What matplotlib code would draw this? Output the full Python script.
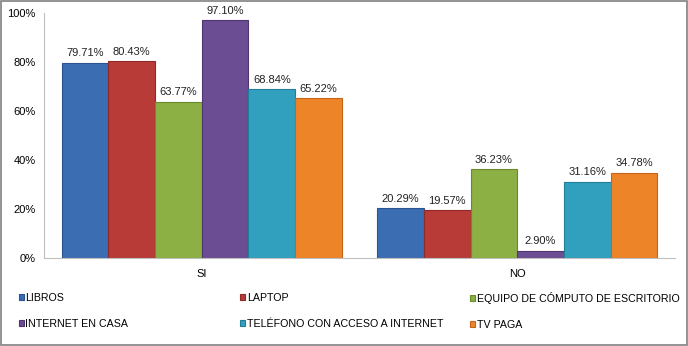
import matplotlib
matplotlib.use("Agg")
import matplotlib.pyplot as plt
import numpy as np
from matplotlib.patches import Rectangle

categories = ["SI", "NO"]
series = ["LIBROS", "LAPTOP", "EQUIPO DE CÓMPUTO DE ESCRITORIO",
          "INTERNET EN CASA", "TELÉFONO CON ACCESO A INTERNET", "TV PAGA"]
values = [
    [79.71, 20.29],
    [80.43, 19.57],
    [63.77, 36.23],
    [97.10, 2.90],
    [68.84, 31.16],
    [65.22, 34.78],
]
colors = ["#3B6DB3", "#B83B38", "#8CB043", "#6B4D93", "#31A0BF", "#EE8428"]
edges = ["#2A5390", "#8E2A27", "#6B8A2E", "#4F3670", "#227E98", "#C4661A"]
yticks = [0, 20, 40, 60, 80, 100]

plt.rcParams['font.family'] = ['Liberation Sans', 'DejaVu Sans']

fig = plt.figure(figsize=(6.88, 3.46), dpi=100)
ax = fig.add_axes([44/688, 1-258/346, (675-44)/688, 245/346])

x = np.arange(len(categories))
bw = 0.148
n = len(series)
handles = []
for i, (s, v) in enumerate(zip(series, values)):
    pos = x + (i - (n-1)/2) * bw
    b = ax.bar(pos, v, bw, color=colors[i], edgecolor=edges[i], linewidth=0.8, label=s)
    handles.append(b)
    for px, val in zip(pos, v):
        ax.text(px, val + 1.8, f"{val:.2f}%", ha="center", va="bottom", fontsize=8,
                color="#222222", clip_on=False)

ax.set_xlim(-0.5, 1.5)
ax.set_ylim(0, 100)
ax.set_yticks(yticks)
ax.set_yticklabels([f"{t}%" for t in yticks], fontsize=8)
ax.set_xticks(x)
ax.set_xticklabels(categories, fontsize=8)
ax.tick_params(axis='x', length=0, pad=8)
ax.tick_params(axis='y', length=0, pad=6)
for side in ["top", "right"]:
    ax.spines[side].set_visible(False)
ax.spines["left"].set_color("#BFBFBF")
ax.spines["bottom"].set_color("#BFBFBF")

cols = [(0, 3, 18.5), (1, 4, 240), (2, 5, 470)]
for a, b, xpx in cols:
    fig.legend([handles[a], handles[b]], [series[a], series[b]],
               loc="center left", bbox_to_anchor=(xpx/688, 1-311/346),
               frameon=False, fontsize=7.7, handlelength=0.5, handleheight=0.5,
               handletextpad=0.12, borderaxespad=0, borderpad=0, labelspacing=1.5)

fig.patches.append(Rectangle((0.001, 0.002), 0.997, 0.995, transform=fig.transFigure,
                             fill=False, edgecolor="#808080", linewidth=1.2))

fig.savefig("out.png", dpi=100)
